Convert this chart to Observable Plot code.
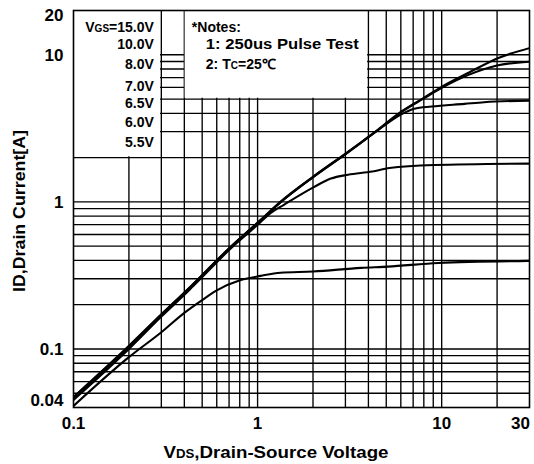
<!DOCTYPE html>
<html><head><meta charset="utf-8">
<script src="https://cdn.jsdelivr.net/npm/d3@7"></script>
<script src="https://cdn.jsdelivr.net/npm/@observablehq/plot@0.6"></script>
<style>
body{margin:0;background:#fff;}
#chart{position:absolute;left:0;top:0;}
svg text{font-family:"Liberation Sans",Arial,sans-serif;font-weight:bold;fill:#000;}
</style></head><body><div id="chart"></div>
<script>
// ---- data ----
const seriesNames = ["15.0V", "10.0V", "7.0V", "6.0V", "5.5V"];
const vdsA = [0.1, 0.2, 0.3, 0.43, 0.5, 0.71, 0.91, 1.04, 1.33, 2.0, 3.1, 4.5, 6.0, 8.0, 10, 14, 20.5, 30];
const idA  = [0.047, 0.105, 0.172, 0.264, 0.318, 0.492, 0.65, 0.755, 1.0, 1.48, 2.19, 3.09, 4.09, 5.1, 6.05, 7.55, 9.55, 11.1];
const vdsB = [0.1, 0.2, 0.3, 0.43, 0.5, 0.71, 0.91, 1.04, 1.33, 2.0, 3.1, 4.5, 6.0, 8.0, 10, 14, 20, 30];
const idB  = [0.046, 0.103, 0.17, 0.261, 0.315, 0.487, 0.644, 0.748, 0.99, 1.47, 2.17, 3.07, 4.06, 5.05, 5.95, 7.3, 8.45, 8.98];
const vdsC = [0.1, 0.2, 0.3, 0.43, 0.5, 0.71, 0.91, 1.04, 1.33, 2.0, 3.1, 4.5, 6.0, 7.1, 8.8, 13.3, 17, 30];
const idC  = [0.047, 0.104, 0.171, 0.263, 0.317, 0.49, 0.648, 0.752, 0.995, 1.475, 2.18, 3.07, 3.92, 4.3, 4.45, 4.64, 4.76, 4.88];
const vdsD = [0.1, 0.2, 0.3, 0.43, 0.5, 0.71, 0.91, 1.04, 1.18, 1.39, 2.02, 2.5, 3.1, 4.2, 5.2, 9.1, 30];
const idD  = [0.045, 0.1, 0.166, 0.255, 0.308, 0.478, 0.63, 0.73, 0.84, 0.955, 1.26, 1.44, 1.53, 1.61, 1.70, 1.78, 1.82];
const vdsE = [0.1, 0.2, 0.3, 0.4, 0.5, 0.6, 0.81, 1.04, 1.33, 2.0, 3.65, 5.1, 9.6, 30];
const idE  = [0.041, 0.088, 0.13, 0.176, 0.215, 0.25, 0.294, 0.314, 0.33, 0.336, 0.356, 0.363, 0.384, 0.397];

const xGridValues = [0.2, 0.3, 0.4, 0.5, 0.6, 0.7, 0.8, 0.9, 1, 2, 3, 4, 5, 6, 7, 8, 9, 10, 20];
const yGridValues = [0.05, 0.06, 0.07, 0.08, 0.09, 0.1, 0.2, 0.3, 0.4, 0.5, 0.6, 0.7, 0.8, 0.9, 1, 2, 3, 4, 5, 6, 7, 8, 9, 10];
const xTickLabels = [0.1, 1, 10, 30];
const yTickLabels = [0.04, 0.1, 1, 10, 20];
const legendLabels = ["=15.0V", "10.0V", "8.0V", "7.0V", "6.5V", "6.0V", "5.5V"];
const noteLines = ["*Notes:", "1: 250us Pulse Test", "2: T"];

// ---- build table ----
const allX = [vdsA, vdsB, vdsC, vdsD, vdsE];
const allY = [idA, idB, idC, idD, idE];
const rows = [];
allX.forEach((xs, s) => xs.forEach((v, i) => rows.push({series: seriesNames[s], vds: v, id: allY[s][i]})));

const boxes = [
  {x1: 0.1, x2: 0.3, y1: 2, y2: 20},
  {x1: 0.4, x2: 4, y1: 5, y2: 20}
];

const fontFam = "Liberation Sans, Arial, sans-serif";
const tickText = (data, opts) => Plot.text(data, {text: d => String(d), fontSize: 17, fontWeight: "bold", lineAnchor: "middle", ...opts});
const plot = Plot.plot({
  width: 534, height: 464,
  marginLeft: 73, marginRight: 5, marginTop: 10, marginBottom: 57,
  style: {background: "white", fontFamily: fontFam, fontWeight: "bold", color: "black"},
  x: {type: "log", domain: [0.1, 30], axis: null},
  y: {type: "log", domain: [0.04, 20], axis: null},
  marks: [
    Plot.ruleX(xGridValues, {stroke: "#000", strokeWidth: 1.35}),
    Plot.ruleY(yGridValues, {stroke: "#000", strokeWidth: 1.35}),
    Plot.rect(boxes.slice(0, 1), {x1: "x1", x2: "x2", y1: "y1", y2: "y2", fill: "white", insetRight: 0.8, insetBottom: 0.8}),
    Plot.rect(boxes.slice(1), {x1: "x1", x2: "x2", y1: "y1", y2: "y2", fill: "white", insetLeft: 0.8, insetRight: 0.8, insetBottom: 0.8}),
    Plot.line(rows, {x: "vds", y: "id", z: "series", stroke: "black", strokeWidth: 2.1, curve: "monotone-x", clip: true}),
    Plot.frame({stroke: "black", strokeWidth: 1.6}),
    tickText(xTickLabels.slice(0, 3), {x: d => d, y: 0.04, dy: 16}),
    tickText(xTickLabels.slice(3), {x: d => d, y: 0.04, dy: 16, dx: -9}),
    tickText(yTickLabels.slice(0, 1), {x: 0.1, y: d => d, dx: -10, dy: -7, textAnchor: "end"}),
    tickText(yTickLabels.slice(1, 4), {x: 0.1, y: d => d, dx: -10, dy: 1, textAnchor: "end"}),
    tickText(yTickLabels.slice(4), {x: 0.1, y: d => d, dx: -10, dy: 5, textAnchor: "end"})
  ]
});
document.getElementById("chart").append(plot);

// ---- annotations with subscripts, positioned through the plot's scales ----
const sx = plot.scale("x"), sy = plot.scale("y");
const svg = d3.select(plot);
const g = svg.append("g").attr("font-family", fontFam).attr("font-weight", "bold").attr("text-anchor", "start");

// legend (gate voltages)
const legRight = sx.apply(0.3) - 7;
const legBase = [32, 49, 69, 91, 108, 127, 147];
legendLabels.forEach((lab, i) => {
  const t = g.append("text").attr("x", legRight).attr("y", legBase[i]).attr("text-anchor", "end").attr("font-size", 14);
  if (i === 0) {
    t.append("tspan").text("V");
    t.append("tspan").attr("font-size", 10).text("GS");
    t.append("tspan").text(lab);
  } else t.text(lab);
});

// notes
const noteX = sx.apply(0.4) + 8;
g.append("text").attr("x", noteX).attr("y", 32).attr("font-size", 14).attr("text-anchor", "start").text(noteLines[0]);
g.append("text").attr("x", noteX + 14).attr("y", 49).attr("font-size", 14).attr("text-anchor", "start")
  .attr("textLength", 153).attr("lengthAdjust", "spacingAndGlyphs").text(noteLines[1]);
const n2 = g.append("text").attr("x", noteX + 14).attr("y", 69).attr("font-size", 14).attr("text-anchor", "start");
n2.append("tspan").text(noteLines[2]);
n2.append("tspan").attr("font-size", 10).text("C");
n2.append("tspan").text("=25\u2103");

// axis titles
const xt = g.append("text").attr("x", 276).attr("y", 458).attr("text-anchor", "middle").attr("font-size", 17)
  .attr("textLength", 225).attr("lengthAdjust", "spacingAndGlyphs");
xt.append("tspan").text("V");
xt.append("tspan").attr("font-size", 12).text("DS");
xt.append("tspan").text(",Drain-Source Voltage");

g.append("text").attr("transform", "translate(25,211) rotate(-90)").attr("text-anchor", "middle")
  .attr("font-size", 17).attr("textLength", 162).attr("lengthAdjust", "spacingAndGlyphs")
  .text("ID,Drain Current[A]");
</script>
</body></html>
